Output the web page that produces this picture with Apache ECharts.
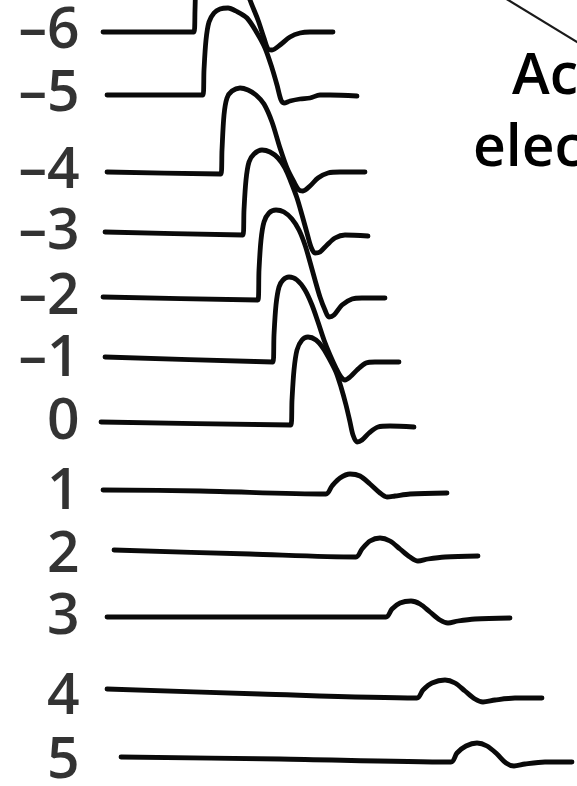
<!DOCTYPE html>
<html>
<head>
<meta charset="utf-8">
<script src="https://cdn.jsdelivr.net/npm/echarts@6/dist/echarts.min.js"></script>
<style>
  html, body { margin: 0; padding: 0; background: #ffffff; }
  #chart { width: 577px; height: 786px; }
</style>
</head>
<body>
<div id="chart"></div>
<script>
// Distance labels of the recording sites (one trace per site)
const distances = ['\u20136', '\u20135', '\u20134', '\u20133', '\u20132', '\u20131', '0', '1', '2', '3', '4', '5'];

// Resting level of each trace on the (stacked) vertical axis, arbitrary units
const restLevel = [32, 95, 172, 233, 298, 360, 423, 493, 556, 618, 698, 762];

// Each trace: [time (arbitrary units), potential relative to rest (arbitrary units, up = positive)]
const traceM6 = [[103,0],[194,0],[195,22],[196,52],[199,72],[205,82],[213,85],[222,83],[232,74],[242,56],[250,32],[258,12],[264,-6],[268,-17],[272,-18],[280,-13],[290,-5],[300,-1],[310,0],[333,0]];
const traceM5 = [[107,0],[203,0],[204,25],[206,55],[209,73],[214,82],[220,86],[228,87],[236,84],[247,77],[257,62],[265,47],[272,27],[277,10],[281,-5],[284,-8],[290,-6],[300,-4],[310,-3],[320,0],[330,0],[357,-1]];
const traceM4 = [[107,0],[221,-2],[222,22],[224,57],[227,74],[232,81],[240,84],[248,82],[256,77],[264,68],[272,50],[280,24],[287,4],[294,-10],[299,-18],[303,-19],[310,-14],[318,-6],[328,-1],[340,0],[365,0]];
const traceM3 = [[105,1],[243,-2],[244,23],[246,53],[249,71],[254,79],[262,83],[270,81],[278,75],[285,65],[291,51],[297,35],[302,18],[307,0],[311,-14],[315,-20],[320,-19],[327,-12],[335,-5],[345,-2],[368,-3]];
const traceM2 = [[103,1],[258,-2],[259,28],[261,58],[264,76],[269,85],[276,88],[284,86],[292,79],[299,68],[305,53],[310,36],[315,18],[320,1],[325,-12],[329,-19],[334,-17],[342,-7],[352,-1],[362,0],[385,0]];
const traceM1 = [[105,3],[273,-2],[274,25],[276,55],[279,73],[283,80],[289,83],[297,80],[305,70],[312,55],[318,38],[324,20],[330,5],[336,-8],[341,-17],[345,-20],[350,-17],[357,-10],[366,-3],[375,-2],[399,-2]];
const trace0  = [[101,1],[291,-2],[292,23],[294,53],[297,73],[302,83],[308,86],[316,83],[323,75],[330,63],[336,51],[341,36],[346,18],[350,1],[353,-12],[357,-19],[362,-17],[369,-10],[378,-4],[390,-3],[414,-4]];
const trace1  = [[103,3],[200,2],[326,-1],[332,7],[340,15],[350,19],[360,17],[370,9],[380,0],[387,-4],[395,-3],[410,-1],[447,0]];
const trace2  = [[114,6],[250,2],[356,-1],[362,7],[370,15],[380,18],[390,15],[400,7],[410,-1],[418,-5],[428,-3],[445,-1],[478,0]];
const trace3  = [[107,1],[250,1],[386,1],[392,9],[400,15],[411,17],[420,14],[430,6],[440,-2],[448,-5],[458,-3],[475,-1],[510,0]];
const trace4  = [[107,9],[260,4],[417,0],[423,8],[432,15],[445,18],[455,15],[465,7],[475,-1],[483,-4],[495,-2],[515,0],[542,0]];
const trace5  = [[121,5],[280,3],[451,0],[457,9],[466,16],[477,19],[487,16],[497,8],[506,-1],[514,-4],[525,-2],[545,0],[572,0]];

const traces = [traceM6, traceM5, traceM4, traceM3, traceM2, traceM1, trace0, trace1, trace2, trace3, trace4, trace5];

// ---- presentation ----
const INK = '#0a0a0a';
const FONT = "'Open Sans', 'Noto Sans', sans-serif";
const LABEL_X = 80;

const chart = echarts.init(document.getElementById('chart'), null, { renderer: 'canvas' });

const series = traces.map((tr, i) => ({
  type: 'line',
  name: distances[i],
  data: tr.map(([t, v]) => [t, restLevel[i] - v]),
  symbol: 'none',
  smooth: 0.3,
  lineStyle: { color: INK, width: 4.8, cap: 'round', join: 'round' },
  silent: true,
  z: 2
}));

series.push({
  type: 'scatter',
  name: 'labels',
  data: restLevel.map((y, i) => ({ value: [LABEL_X, y], name: distances[i] })),
  symbolSize: 1,
  itemStyle: { color: 'rgba(0,0,0,0)' },
  label: {
    show: true,
    position: 'left',
    distance: 0,
    formatter: '{b}',
    color: '#000',
    fontFamily: FONT,
    fontSize: 57,
    fontWeight: 600
  },
  silent: true,
  z: 3
});

chart.setOption({
  backgroundColor: '#ffffff',
  animation: false,
  grid: { left: 0, right: 0, top: 0, bottom: 0, containLabel: false },
  xAxis: { type: 'value', min: 0, max: 577, show: false },
  yAxis: { type: 'value', min: 0, max: 786, inverse: true, show: false },
  series: series,
  graphic: [
    {
      type: 'line',
      shape: { x1: 495, y1: -8, x2: 600, y2: 56 },
      style: { stroke: '#1a1a1a', lineWidth: 2.2 },
      silent: true
    },
    {
      type: 'text',
      x: 512, y: 78,
      style: { text: 'Active', font: "600 57px 'Open Sans', sans-serif", fill: '#000', textAlign: 'left', textVerticalAlign: 'middle' },
      silent: true
    },
    {
      type: 'text',
      x: 473, y: 150,
      style: { text: 'electrode', font: "600 57px 'Open Sans', sans-serif", fill: '#000', textAlign: 'left', textVerticalAlign: 'middle' },
      silent: true
    }
  ]
});
</script>
</body>
</html>
